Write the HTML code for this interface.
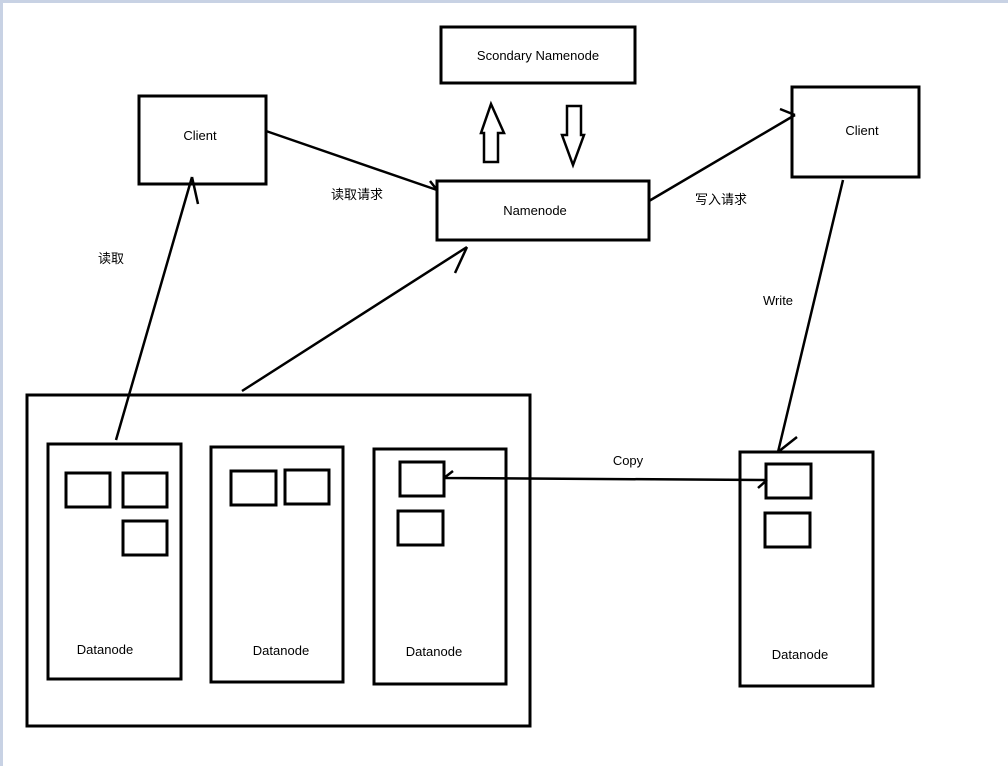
<!DOCTYPE html>
<html><head><meta charset="utf-8"><style>
html,body{margin:0;padding:0;background:#fff}
svg{display:block}
text{font-family:"Liberation Sans","Noto Sans CJK SC",sans-serif;font-size:13px;fill:#000}
</style></head><body>
<svg width="1008" height="766" viewBox="0 0 1008 766" xmlns="http://www.w3.org/2000/svg">
<rect x="0" y="0" width="1008" height="766" fill="#fff"/>
<rect x="0" y="0" width="1008" height="3" fill="#c8d2e4"/>
<rect x="0" y="0" width="3" height="766" fill="#c8d2e4"/>
<g fill="none" stroke="#000" stroke-width="3">
<rect x="441" y="27" width="194" height="56"/>
<rect x="139" y="96" width="127" height="88"/>
<rect x="792" y="87" width="127" height="90"/>
<rect x="437" y="181" width="212" height="59"/>
<path d="M27,395 H530 V726 H27 Z"/>
<rect x="48" y="444" width="133" height="235"/>
<rect x="211" y="447" width="132" height="235"/>
<rect x="374" y="449" width="132" height="235"/>
<rect x="740" y="452" width="133" height="234"/>
<rect x="66" y="473" width="44" height="34"/>
<rect x="123" y="473" width="44" height="34"/>
<rect x="123" y="521" width="44" height="34"/>
<rect x="231" y="471" width="45" height="34"/>
<rect x="285" y="470" width="44" height="34"/>
<rect x="400" y="462" width="44" height="34"/>
<rect x="398" y="511" width="45" height="34"/>
<rect x="766" y="464" width="45" height="34"/>
<rect x="765" y="513" width="45" height="34"/>
</g>
<g fill="none" stroke="#000" stroke-width="2.5">
<path d="M266,131 L437,190 M437,190 L430,181"/>
<path d="M116,440 L192,177 M192,177 L198,204"/>
<path d="M242,391 L467,247 M467,247 L455,273"/>
<path d="M649,201 L795,115 M795,115 L780,109"/>
<path d="M843,180 L778,452 M778,452 L797,437"/>
<path d="M444,478 L767,480 M444,478 L453,471 M767,480 L758,488"/>
<path d="M484,162 V133 H481 L491,104 L504,133 H498 V162 Z"/>
<path d="M567,106 V135 H562 L573,165 L584,135 H581 V106 Z"/>
</g>
<text x="538" y="60" text-anchor="middle">Scondary Namenode</text>
<text x="200" y="140" text-anchor="middle">Client</text>
<text x="862" y="135" text-anchor="middle">Client</text>
<text x="535" y="215" text-anchor="middle">Namenode</text>
<text x="357" y="199" text-anchor="middle">读取请求</text>
<text x="721" y="204" text-anchor="middle">写入请求</text>
<text x="111" y="263" text-anchor="middle">读取</text>
<text x="778" y="305" text-anchor="middle">Write</text>
<text x="628" y="465" text-anchor="middle">Copy</text>
<text x="105" y="654" text-anchor="middle">Datanode</text>
<text x="281" y="655" text-anchor="middle">Datanode</text>
<text x="434" y="656" text-anchor="middle">Datanode</text>
<text x="800" y="659" text-anchor="middle">Datanode</text>
</svg>
</body></html>
